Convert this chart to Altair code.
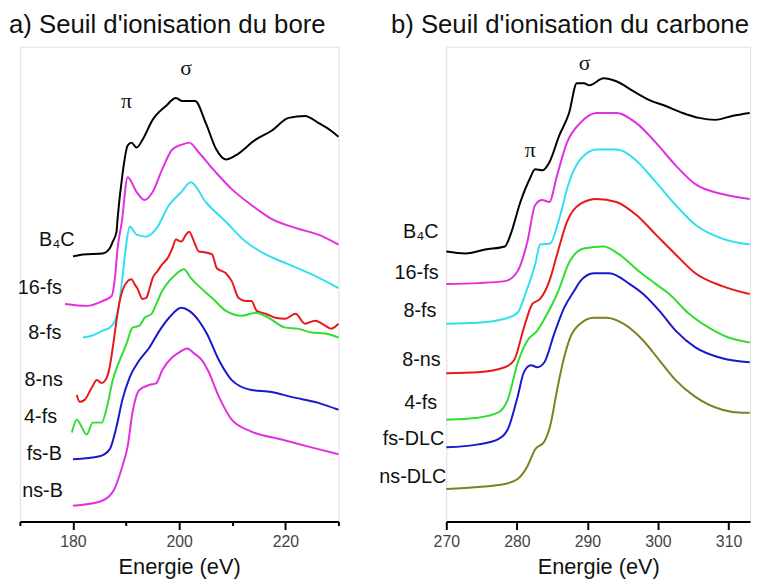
import altair as alt
import pandas as pd

# ---------------- a) Boron K-edge (energies in eV, intensities in a.u., stacked) ----------------
L_B4C_E = [180.0, 181.9, 185.6, 186.9, 187.5, 188.2, 188.4, 189.3, 190.3, 191.0, 192.0, 193.1, 195.0, 197.5, 199.4, 200.6, 203.0, 205.0, 207.0, 208.8, 210.6, 214.4, 217.4, 220.6, 223.7, 226.2, 228.6, 230.0]
L_B4C_I = [134, 135, 135.5, 138, 141.5, 146.5, 153, 175, 190, 191.5, 189, 193, 203, 210, 214, 212.5, 212.5, 201.5, 188, 183, 185, 193, 197.5, 204, 205, 201.5, 197.5, 194.5]

L_16fs_E = [178.5, 182.6, 185.6, 187.3, 187.9, 188.4, 189.2, 190.3, 192.0, 193.5, 195.0, 196.8, 198.7, 200.5, 201.9, 203.7, 206.9, 209.9, 213.6, 217.4, 222.4, 226.2, 230.0]
L_16fs_I = [110, 109, 111.5, 114, 123, 138, 151.5, 174, 166.5, 162.5, 166.5, 178, 188, 190.5, 191.5, 186.5, 176.5, 168, 160, 153, 148, 145, 140]

L_8fs_E = [181.9, 183.7, 185.6, 186.9, 187.9, 188.8, 189.3, 190.1, 190.7, 192.0, 193.8, 195.7, 198.1, 200.4, 202.2, 205.0, 208.8, 212.5, 216.3, 220.6, 224.9, 230.0]
L_8fs_I = [93, 94, 96.5, 98, 101.5, 111.5, 123, 141.5, 149, 145, 144, 148, 160, 166.5, 171.5, 161.5, 151.5, 141.5, 135, 130, 125, 118]

L_8ns_E = [180.7, 181.3, 182.2, 183.6, 184.5, 185.4, 186.4, 186.9, 187.5, 188.2, 188.8, 189.3, 190.3, 191.0, 191.6, 192.1, 193.1, 193.8, 194.4, 195.0, 195.9, 196.8, 197.8, 198.7, 199.4, 200.4, 201.3, 201.9, 202.8, 203.7, 205.0, 206.2, 207.1, 208.8, 209.9, 211.2, 212.5, 213.6, 214.6, 216.3, 218.1, 220.0, 221.9, 223.7, 225.6, 227.5, 228.6, 230.0]
L_8ns_I = [64, 60.5, 61.5, 68, 71.5, 70, 73, 78, 88, 101.5, 111.5, 116.5, 121.5, 122.5, 120, 118, 112.5, 113, 117.5, 123, 126.5, 130, 133, 138, 142.5, 141.5, 145, 146.5, 141.5, 136.5, 136, 135, 128, 125.5, 121.5, 113, 111.5, 111.5, 106.5, 105, 103, 102.5, 105, 100, 101.5, 99, 97.5, 100]

L_4fs_E = [179.8, 180.7, 182.6, 183.7, 185.4, 186.4, 187.5, 188.8, 190.1, 191.2, 192.5, 193.5, 194.8, 195.7, 196.8, 198.1, 199.4, 200.9, 202.2, 203.7, 206.2, 208.8, 211.8, 214.4, 216.8, 220.0, 222.4, 224.9, 227.5, 230.0]
L_4fs_I = [45, 51.5, 44, 50, 50, 58, 71.5, 81.5, 90, 98, 99, 103, 105, 110, 116.5, 121.5, 125, 127.5, 123, 119, 113, 106.5, 104, 105.5, 103, 98, 97.5, 95.5, 95, 93]

L_fsB_E = [180.0, 185.0, 186.9, 188.2, 189.3, 190.7, 192.5, 194.4, 196.3, 198.1, 200.4, 201.9, 203.7, 205.2, 207.5, 209.9, 213.6, 217.4, 221.1, 226.2, 230.0]
L_fsB_I = [31.5, 33, 36.5, 48, 61.5, 73, 81.5, 88, 96.5, 103, 108, 106.5, 101.5, 95, 81.5, 71.5, 66.5, 65.5, 63, 60, 56.5]

L_nsB_E = [180.0, 185.0, 187.5, 189.3, 190.3, 191.2, 192.5, 194.4, 195.7, 196.8, 198.7, 200.0, 201.5, 202.8, 204.3, 205.5, 207.5, 209.9, 213.6, 219.3, 224.9, 230.0]
L_nsB_I = [8, 10, 15, 28, 38, 55, 66.5, 69, 70, 76.5, 83, 85.5, 87.5, 85, 81.5, 76, 63, 51.5, 45.5, 41.5, 37.5, 34]

L_LABELS = ["B₄C", "16-fs", "8-fs", "8-ns", "4-fs", "fs-B", "ns-B"]
L_LABEL_E = [180.3, 177.9, 177.8, 178.1, 177.0, 177.9, 178.1]
L_LABEL_I = [142.5, 118, 95.5, 71.5, 53, 34, 15.5]
L_PEAKS = ["π", "σ"]
L_PEAK_E = [190.1, 201.3]
L_PEAK_I = [212.5, 229]

# ---------------- b) Carbon K-edge ----------------
R_B4C_E = [270.0, 272.7, 275.5, 278.3, 279.1, 280.5, 281.8, 282.6, 283.6, 284.6, 286.0, 287.4, 288.5, 289.5, 290.3, 292.3, 294.1, 296.5, 298.8, 301.1, 303.5, 305.8, 308.1, 310.5, 313.0]
R_B4C_I = [136.5, 135.5, 137.5, 139, 145, 161.5, 173, 178, 177.5, 181.5, 195, 206.5, 221.5, 221.5, 220.5, 224, 222.5, 217.5, 213, 210, 206.5, 204, 203, 205, 206.5]

R_16fs_E = [270.0, 274.5, 278.3, 280.1, 281.5, 282.6, 283.6, 284.6, 285.7, 287.1, 289.0, 291.3, 294.1, 296.9, 299.7, 302.5, 305.3, 309.1, 313.0]
R_16fs_I = [120, 120.5, 121.5, 126.5, 141.5, 160, 162.5, 161.5, 175, 191.5, 201.5, 206.5, 206.5, 201.5, 191.5, 180, 170.5, 165.5, 163]

R_8fs_E = [270.0, 274.5, 278.3, 280.1, 281.2, 282.6, 283.3, 284.7, 286.0, 287.4, 289.0, 291.3, 294.1, 296.9, 299.7, 302.5, 305.3, 309.1, 313.0]
R_8fs_I = [100, 100.5, 102.5, 105.5, 115, 130, 140, 140.5, 153, 171.5, 183, 188, 188, 182.5, 171.5, 160, 150, 143, 140]

R_8ns_E = [270.0, 274.5, 278.3, 279.6, 281.0, 282.2, 283.3, 284.6, 285.7, 287.1, 289.0, 291.3, 294.1, 296.9, 299.7, 302.5, 305.3, 309.1, 313.0]
R_8ns_I = [75, 75.5, 78, 81.5, 98, 110, 112.5, 121.5, 135, 151.5, 160.5, 163, 161.5, 155, 145, 135, 125.5, 119, 115]

R_4fs_E = [270.0, 274.5, 277.3, 278.7, 280.1, 281.5, 282.9, 284.3, 285.7, 287.5, 289.5, 292.3, 294.5, 297.3, 299.7, 301.6, 304.4, 307.2, 310.0, 313.0]
R_4fs_I = [51.5, 52.5, 55, 61.5, 80, 91.5, 96.5, 105, 115, 131.5, 138, 139, 135, 126.5, 120, 115, 105, 98, 93, 90.5]

R_fsDLC_E = [270.0, 274.5, 277.3, 278.7, 280.1, 281.0, 282.0, 282.9, 283.9, 285.3, 286.7, 288.1, 289.0, 290.9, 293.1, 296.0, 297.9, 300.2, 302.5, 305.3, 309.1, 313.0]
R_fsDLC_I = [37.5, 39, 41.5, 46.5, 63, 75.5, 79, 78, 80.5, 95, 108, 116.5, 121.5, 125.5, 125.5, 120, 115, 106.5, 96.5, 88, 82.5, 80.5]

R_nsDLC_E = [270.0, 274.5, 278.3, 280.1, 281.5, 282.6, 283.9, 284.7, 285.7, 286.7, 287.5, 289.0, 290.9, 292.7, 295.1, 297.9, 300.2, 302.5, 305.3, 309.1, 311.9, 313.0]
R_nsDLC_I = [16.5, 17.5, 19, 21.5, 28, 36.5, 40.5, 48, 66.5, 83, 92.5, 100, 103, 103, 100, 91.5, 81.5, 71.5, 63, 56.5, 55, 55]

R_LABELS = ["B₄C", "16-fs", "8-fs", "8-ns", "4-fs", "fs-DLC", "ns-DLC"]
R_LABEL_E = [268.9, 268.9, 268.6, 269.2, 268.7, 269.7, 270.0]
R_LABEL_I = [146.5, 125.5, 106.5, 81.5, 60, 41.5, 22.5]
R_PEAKS = ["π", "σ"]
R_PEAK_E = [281.9, 289.6]
R_PEAK_I = [187.5, 231.5]

SERIES = ["B4C", "16-fs", "8-fs", "8-ns", "4-fs", "fs-B", "ns-B", "fs-DLC", "ns-DLC"]
COLORS = ["#000000", "#e030e0", "#30e0f0", "#e81818", "#30dd30", "#1818cc", "#e030e0", "#1818cc", "#7f7f1f"]

FONT = "Liberation Sans"


def long_df(curves):
    rows = []
    for name, es, ys in curves:
        for k, (e, v) in enumerate(zip(es, ys)):
            rows.append({"E": e, "I": v, "series": name, "k": k})
    return pd.DataFrame(rows)


def panel(curves, labels, lab_e, lab_i, peaks, pk_e, pk_i, domain, ticks, major, title, title_dx, width):
    df = long_df(curves)
    xscale = alt.Scale(domain=domain, nice=False, zero=False)
    yscale = alt.Scale(domain=[0, 240], nice=False, zero=False)
    axis = alt.Axis(
        values=ticks,
        labelExpr=f"datum.value % {major} == 0 ? datum.label : ''",
        tickSize={"condition": {"test": f"datum.value % {major} == 0", "value": 8}, "value": 4},
        tickColor="#000", tickWidth=2, domainColor="#000", domainWidth=2,
        labelFont=FONT, labelFontSize=16, labelColor="#444", labelPadding=4,
        titleFont=FONT, titleFontSize=22, titleFontWeight="normal", titleColor="#111",
        titlePadding=7, grid=False, labelFlush=False,
    )
    lines = alt.Chart(df).mark_line(strokeWidth=2, interpolate="monotone").encode(
        x=alt.X("E:Q", scale=xscale, axis=axis, title="Energie (eV)"),
        y=alt.Y("I:Q", scale=yscale, axis=None),
        color=alt.Color("series:N", scale=alt.Scale(domain=SERIES, range=COLORS), legend=None),
        detail="series:N",
        order="k:Q",
    )
    ldf = pd.DataFrame({"E": lab_e, "I": lab_i, "t": labels})
    texts = alt.Chart(ldf).mark_text(align="right", baseline="middle", font=FONT, fontSize=20, color="#111").encode(
        x=alt.X("E:Q", scale=xscale), y=alt.Y("I:Q", scale=yscale), text="t:N"
    )
    pdf = pd.DataFrame({"E": pk_e, "I": pk_i, "t": peaks})
    ptexts = alt.Chart(pdf).mark_text(align="center", baseline="middle", font="Liberation Serif", fontSize=22, color="#111").encode(
        x=alt.X("E:Q", scale=xscale), y=alt.Y("I:Q", scale=yscale), text="t:N"
    )
    return alt.layer(lines, texts, ptexts).properties(
        width=width, height=480,
        title=alt.TitleParams(title, anchor="start", frame="group", dx=title_dx, fontSize=26, font=FONT,
                              fontWeight="normal", color="#111", offset=9),
    )


left = panel(
    [("B4C", L_B4C_E, L_B4C_I), ("16-fs", L_16fs_E, L_16fs_I), ("8-fs", L_8fs_E, L_8fs_I),
     ("8-ns", L_8ns_E, L_8ns_I), ("4-fs", L_4fs_E, L_4fs_I), ("fs-B", L_fsB_E, L_fsB_I),
     ("ns-B", L_nsB_E, L_nsB_I)],
    L_LABELS, L_LABEL_E, L_LABEL_I, L_PEAKS, L_PEAK_E, L_PEAK_I,
    [170, 230], [170, 180, 190, 200, 210, 220, 230], 20,
    "a) Seuil d'ionisation du bore", -11, 322,
)

right = panel(
    [("B4C", R_B4C_E, R_B4C_I), ("16-fs", R_16fs_E, R_16fs_I), ("8-fs", R_8fs_E, R_8fs_I),
     ("8-ns", R_8ns_E, R_8ns_I), ("4-fs", R_4fs_E, R_4fs_I), ("fs-DLC", R_fsDLC_E, R_fsDLC_I),
     ("ns-DLC", R_nsDLC_E, R_nsDLC_I)],
    R_LABELS, R_LABEL_E, R_LABEL_I, R_PEAKS, R_PEAK_E, R_PEAK_I,
    [270, 313.05], [270, 275, 280, 285, 290, 295, 300, 305, 310], 10,
    "b) Seuil d'ionisation du carbone", -56, 307,
)

chart = alt.hconcat(left, right, spacing=109, bounds="flush").properties(
    padding={"left": 0, "right": 0, "top": 0, "bottom": 0}
).configure_view(stroke=None).configure(background="white")

chart.save("out.html", embed_options={"renderer": "svg", "actions": False})
